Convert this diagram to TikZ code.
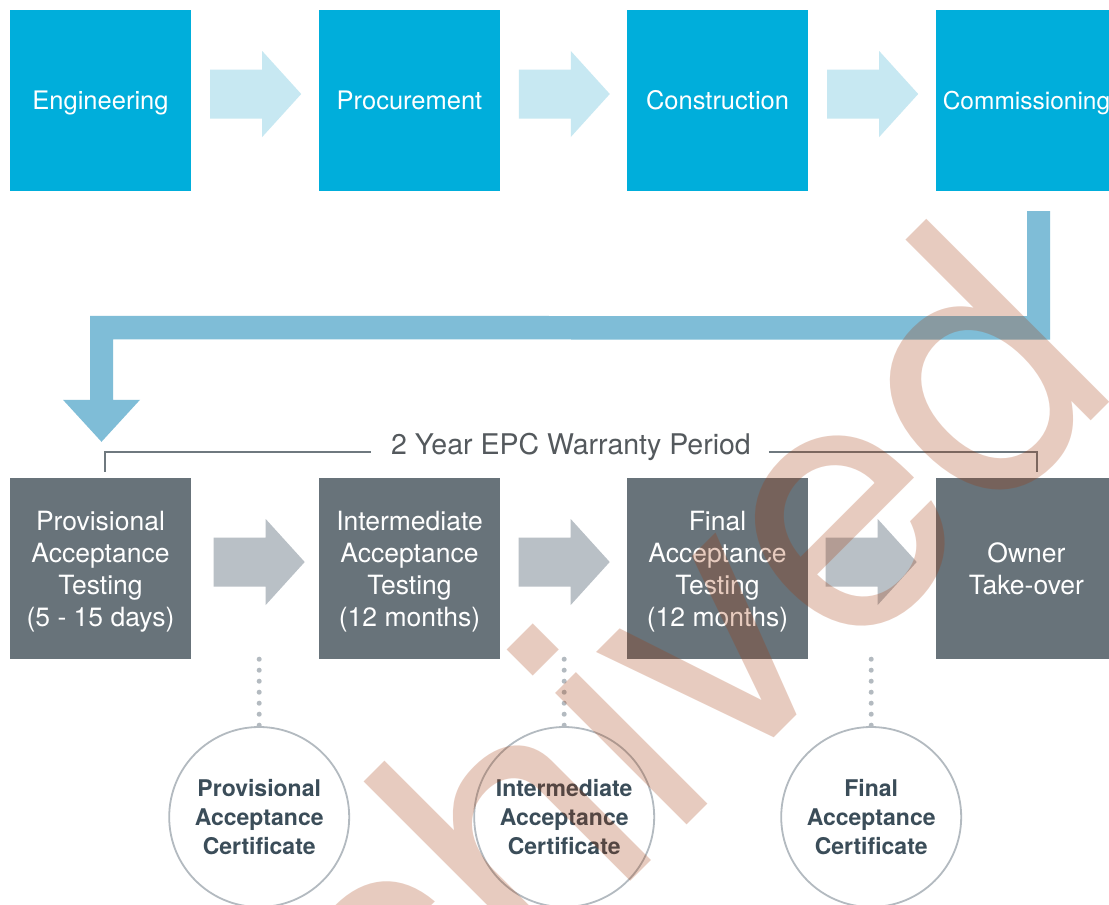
\documentclass[tikz,border=0pt]{standalone}
\usepackage{fontspec}
\setmainfont{TeX Gyre Heros}
\usetikzlibrary{calc}
\definecolor{topblue}{HTML}{00AEDB}
\definecolor{lightarrow}{HTML}{C7E8F2}
\definecolor{lblue}{HTML}{7FBDD7}
\definecolor{boxgray}{HTML}{68737A}
\definecolor{grayarrow}{HTML}{B9C0C6}
\definecolor{circgray}{HTML}{B3BAC0}
\definecolor{certtext}{HTML}{3B4D59}
\definecolor{warrtext}{HTML}{54595D}
\definecolor{bracketgray}{HTML}{6F797F}
\definecolor{wmark}{RGB}{163,51,0}
\begin{document}
\begin{tikzpicture}[x=1pt,y=-1pt,
  phase/.style={fill=topblue, text=white, minimum width=181pt, minimum height=181pt, inner sep=0pt, text height=18.4pt, text depth=0pt, font=\fontsize{25.5}{32}\selectfont},
  test/.style={fill=boxgray, text=white, minimum width=181pt, minimum height=181pt, inner sep=0pt, align=center, text depth=0pt, font=\fontsize{26.5}{32}\selectfont},
  cert/.style={circle, draw=circgray, line width=1.8pt, minimum size=180pt, inner sep=0pt, align=center, text=certtext, font=\bfseries\fontsize{23}{29}\selectfont},
  dots/.style={draw=circgray, line width=5pt, line cap=round, dash pattern=on 0pt off 11pt},
  bracket/.style={draw=bracketgray, line width=2pt},
  blockarrow/.pic={\fill[#1] (0,-24.5) -- (52,-24.5) -- (52,-43) -- (91,0) -- (52,43) -- (52,24.5) -- (0,24.5) -- cycle;}
]
\useasboundingbox[fill=white] (0,0) rectangle (1109,905);

% top row
\node[phase] (eng) at (100.5,100.5) {Engineering};
\node[phase] (proc) at (409.5,100.5) {Procurement};
\node[phase] (cons) at (717.5,100.5) {Construction};
\node[phase, font=\fontsize{24.5}{32}\selectfont] (comm) at (1026.5,100.5) {Commissioning};

\pic at ($(eng.east)+(19,-6.5)$) {blockarrow=lightarrow};
\pic at ($(proc.east)+(18.6,-6.5)$) {blockarrow=lightarrow};
\pic at ($(cons.east)+(19,-6.5)$) {blockarrow=lightarrow};

% bottom row
\node[test] (pat) at (100.5,568.5) {Provisional\\Acceptance\\Testing\\(5 - 15 days)};
\node[test] (iat) at (409.5,568.5) {Intermediate\\Acceptance\\Testing\\(12 months)};
\node[test] (fat) at (717.5,568.5) {Final\\Acceptance\\Testing\\(12 months)};
\node[test] (own) at (1026.5,568.5) {Owner\\Take-over};

\coordinate (a1) at ($(pat.east)+(22.5,-6.5)$);
\coordinate (a2) at ($(iat.east)+(18.5,-6.5)$);
\coordinate (a3) at ($(fat.east)+(17.5,-6.5)$);
\pic at (a1) {blockarrow=grayarrow};
\pic at (a2) {blockarrow=grayarrow};
\pic at (a3) {blockarrow=grayarrow};

% L-shaped connector
\fill[lblue] ($(comm.south)+(0.5,20)$) -- ++(23,0) -- ($(comm.south)+(23.5,148.5)$)
  -- ($(pat.north)+(12.5,-138.5)$) -- ++(0,60.5) -- ++(27,0) -- ($(pat.north)+(1,-36)$)
  -- ++(-38.5,-42) -- ++(27,0) -- ($(pat.north)+(-10.5,-162)$) -- ($(comm.south)+(0.5,125)$) -- cycle;

% warranty bracket
\node[text=warrtext, font=\fontsize{28.5}{32}\selectfont, inner sep=0pt] (warr) at (571,446.5) {2 Year EPC Warranty Period};
\draw[bracket] ($(pat.north)+(4.5,-6)$) |- ($(warr.west)+(-20,5.5)$);
\draw[bracket] ($(warr.east)+(18,5.5)$) -| ($(own.north)+(10.5,-6)$);

% certificates
\node[cert] (c1) at ($(a1)+(45.5,255)$) {Provisional\\Acceptance\\Certificate};
\node[cert] (c2) at ($(a2)+(45.5,255)$) {Intermediate\\Acceptance\\Certificate};
\node[cert] (c3) at ($(a3)+(45.5,255)$) {Final\\Acceptance\\Certificate};
\draw[dots] (c1.north |- pat.south) -- (c1.north);
\draw[dots] (c2.north |- iat.south) -- (c2.north);
\draw[dots] (c3.north |- fat.south) -- (c3.north);

% watermark
\begin{scope}
\clip (0,0) rectangle (1109,905);
\node[rotate=45, anchor=base west, inner sep=0pt, text=wmark, text opacity=0.25, font=\fontsize{355}{355}\selectfont] (wm) at (154.5,1357.5) {Archived};
\end{scope}
\end{tikzpicture}
\end{document}
